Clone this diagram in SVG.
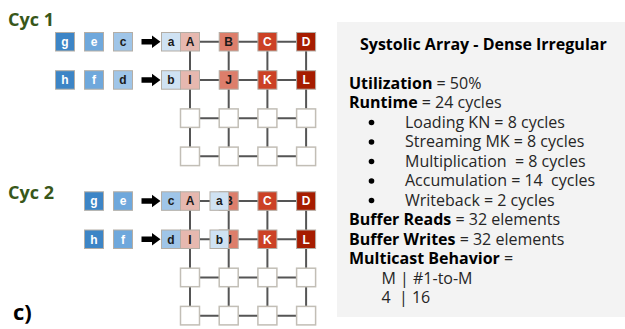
<svg xmlns="http://www.w3.org/2000/svg" width="625" height="329" viewBox="0 0 625 329">
<style>
.cyc{font-family:"Open Sans","Liberation Sans",sans-serif;font-weight:bold;font-size:18px;fill:#38571a}
.b rect{stroke:#b4aea6;stroke-width:1}
.b text{font-family:"Liberation Sans",Arial,sans-serif;font-weight:bold;font-size:12px;text-anchor:middle}
.w{fill:#fff}
.k{fill:#1a1a1a}
.g1{fill:#3d85c6}.g2{fill:#6fa8dc}.g3{fill:#9fc5e8}.g4{fill:#cfe2f3}
.r1{fill:#e6b8af}.r2{fill:#dd7e6b}.r3{fill:#cc4125}.r4{fill:#a61c00}
.e rect{fill:#fff;stroke:#c2beb6;stroke-width:1.5}
.grid line{stroke:#555;stroke-width:2}
.arr{fill:#000}
.p{font-family:"Open Sans","Liberation Sans",sans-serif;font-size:16px;fill:#262626;white-space:pre}
.p .bd{font-weight:bold;fill:#000}
.bul{fill:#000}
</style>
<text class="cyc" x="8" y="26">Cyc 1</text>
<text class="cyc" x="8" y="198.5">Cyc 2</text>
<text x="13" y="320" style="font-family:'Open Sans','Liberation Sans',sans-serif;font-weight:bold;font-size:22px;fill:#000">c)</text>

<g id="connectors">
  <g class="grid">
    <line x1="190" y1="41.75" x2="306.1" y2="41.75"/>
    <line x1="190" y1="79.95" x2="306.1" y2="79.95"/>
    <line x1="190" y1="118.15" x2="306.1" y2="118.15"/>
    <line x1="190" y1="156.35" x2="306.1" y2="156.35"/>
    <line x1="190" y1="41.75" x2="190" y2="156.35"/>
    <line x1="228.7" y1="41.75" x2="228.7" y2="156.35"/>
    <line x1="267.4" y1="41.75" x2="267.4" y2="156.35"/>
    <line x1="306.1" y1="41.75" x2="306.1" y2="156.35"/>
    <line x1="190" y1="201.05" x2="306.1" y2="201.05"/>
    <line x1="190" y1="239.25" x2="306.1" y2="239.25"/>
    <line x1="190" y1="277.45" x2="306.1" y2="277.45"/>
    <line x1="190" y1="315.65" x2="306.1" y2="315.65"/>
    <line x1="190" y1="201.05" x2="190" y2="315.65"/>
    <line x1="228.7" y1="201.05" x2="228.7" y2="315.65"/>
    <line x1="267.4" y1="201.05" x2="267.4" y2="315.65"/>
    <line x1="306.1" y1="201.05" x2="306.1" y2="315.65"/>
  </g>
  <path class="arr" d="M141.5,39 H152 V35.5 L160.5,41.75 L152,48 V44.5 H141.5 Z"/>
  <path class="arr" d="M141.5,77.2 H152 V73.7 L160.5,79.95 L152,86.2 V82.7 H141.5 Z"/>
  <path class="arr" d="M141.5,198.3 H152 V194.8 L160.5,201.05 L152,207.3 V203.8 H141.5 Z"/>
  <path class="arr" d="M141.5,236.5 H152 V233 L160.5,239.25 L152,245.5 V242 H141.5 Z"/>
</g>

<!-- Cycle 1 -->
<g id="c1-g" class="b"><rect class="g1" x="55.5" y="32.5" width="19" height="18.5"/><text class="w" x="65" y="46">g</text></g>
<g id="c1-e" class="b"><rect class="g2" x="84.5" y="32.5" width="19" height="18.5"/><text class="w" x="94" y="46">e</text></g>
<g id="c1-c" class="b"><rect class="g3" x="113.5" y="32.5" width="19" height="18.5"/><text class="k" x="123" y="46">c</text></g>
<g id="c1-a" class="b"><rect class="g4" x="161.5" y="32.5" width="19" height="18.5"/><text class="k" x="171" y="46">a</text></g>
<g id="c1-h" class="b"><rect class="g1" x="55.5" y="70.7" width="19" height="18.5"/><text class="w" x="65" y="84.2">h</text></g>
<g id="c1-f" class="b"><rect class="g2" x="84.5" y="70.7" width="19" height="18.5"/><text class="w" x="94" y="84.2">f</text></g>
<g id="c1-d" class="b"><rect class="g3" x="113.5" y="70.7" width="19" height="18.5"/><text class="k" x="123" y="84.2">d</text></g>
<g id="c1-b" class="b"><rect class="g4" x="161.5" y="70.7" width="19" height="18.5"/><text class="k" x="171" y="84.2">b</text></g>

<g id="c1-A" class="b"><rect class="r1" x="180.5" y="32.5" width="19" height="18.5"/><text class="k" x="190" y="46">A</text></g>
<g id="c1-B" class="b"><rect class="r2" x="219.2" y="32.5" width="19" height="18.5"/><text class="k" x="228.7" y="46">B</text></g>
<g id="c1-C" class="b"><rect class="r3" x="257.9" y="32.5" width="19" height="18.5"/><text class="w" x="267.4" y="46">C</text></g>
<g id="c1-D" class="b"><rect class="r4" x="296.6" y="32.5" width="19" height="18.5"/><text class="w" x="306.1" y="46">D</text></g>
<g id="c1-I" class="b"><rect class="r1" x="180.5" y="70.7" width="19" height="18.5"/><text class="k" x="190" y="84.2">I</text></g>
<g id="c1-J" class="b"><rect class="r2" x="219.2" y="70.7" width="19" height="18.5"/><text class="k" x="228.7" y="84.2">J</text></g>
<g id="c1-K" class="b"><rect class="r3" x="257.9" y="70.7" width="19" height="18.5"/><text class="w" x="267.4" y="84.2">K</text></g>
<g id="c1-L" class="b"><rect class="r4" x="296.6" y="70.7" width="19" height="18.5"/><text class="w" x="306.1" y="84.2">L</text></g>
<g id="c1-empty" class="e">
  <rect x="180.5" y="108.9" width="19" height="18.5"/><rect x="219.2" y="108.9" width="19" height="18.5"/><rect x="257.9" y="108.9" width="19" height="18.5"/><rect x="296.6" y="108.9" width="19" height="18.5"/>
  <rect x="180.5" y="147.1" width="19" height="18.5"/><rect x="219.2" y="147.1" width="19" height="18.5"/><rect x="257.9" y="147.1" width="19" height="18.5"/><rect x="296.6" y="147.1" width="19" height="18.5"/>
</g>

<!-- Cycle 2 -->
<g id="c2-g" class="b"><rect class="g1" x="84.5" y="191.8" width="19" height="18.5"/><text class="w" x="94" y="205.3">g</text></g>
<g id="c2-e" class="b"><rect class="g2" x="113.5" y="191.8" width="19" height="18.5"/><text class="w" x="123" y="205.3">e</text></g>
<g id="c2-h" class="b"><rect class="g1" x="84.5" y="230" width="19" height="18.5"/><text class="w" x="94" y="243.5">h</text></g>
<g id="c2-f" class="b"><rect class="g2" x="113.5" y="230" width="19" height="18.5"/><text class="w" x="123" y="243.5">f</text></g>
<g id="c2-c" class="b"><rect class="g3" x="161.5" y="191.8" width="19" height="18.5"/><text class="k" x="171" y="205.3">c</text></g>
<g id="c2-d" class="b"><rect class="g3" x="161.5" y="230" width="19" height="18.5"/><text class="k" x="171" y="243.5">d</text></g>

<g id="c2-A" class="b"><rect class="r1" x="180.5" y="191.8" width="19" height="18.5"/><text class="k" x="190" y="205.3">A</text></g>
<g id="c2-B" class="b"><rect class="r2" x="219.2" y="191.8" width="19" height="18.5"/><text class="k" x="228.7" y="205.3">B</text></g>
<g id="c2-C" class="b"><rect class="r3" x="257.9" y="191.8" width="19" height="18.5"/><text class="w" x="267.4" y="205.3">C</text></g>
<g id="c2-D" class="b"><rect class="r4" x="296.6" y="191.8" width="19" height="18.5"/><text class="w" x="306.1" y="205.3">D</text></g>
<g id="c2-I" class="b"><rect class="r1" x="180.5" y="230" width="19" height="18.5"/><text class="k" x="190" y="243.5">I</text></g>
<g id="c2-J" class="b"><rect class="r2" x="219.2" y="230" width="19" height="18.5"/><text class="k" x="228.7" y="243.5">J</text></g>
<g id="c2-K" class="b"><rect class="r3" x="257.9" y="230" width="19" height="18.5"/><text class="w" x="267.4" y="243.5">K</text></g>
<g id="c2-L" class="b"><rect class="r4" x="296.6" y="230" width="19" height="18.5"/><text class="w" x="306.1" y="243.5">L</text></g>
<g id="c2-a" class="b"><rect class="g4" x="210" y="191.8" width="18.5" height="18.5"/><text class="k" x="219.3" y="205.3">a</text></g>
<g id="c2-b" class="b"><rect class="g4" x="210" y="230" width="18.5" height="18.5"/><text class="k" x="219.3" y="243.5">b</text></g>
<g id="c2-empty" class="e">
  <rect x="180.5" y="268.2" width="19" height="18.5"/><rect x="219.2" y="268.2" width="19" height="18.5"/><rect x="257.9" y="268.2" width="19" height="18.5"/><rect x="296.6" y="268.2" width="19" height="18.5"/>
  <rect x="180.5" y="306.4" width="19" height="18.5"/><rect x="219.2" y="306.4" width="19" height="18.5"/><rect x="257.9" y="306.4" width="19" height="18.5"/><rect x="296.6" y="306.4" width="19" height="18.5"/>
</g>

<!-- Info panel -->
<g id="panel">
  <rect x="337" y="22" width="288" height="295" fill="#f3f3f3"/>
  <text class="p" x="360" y="50" style="font-weight:bold;fill:#000">Systolic Array - Dense Irregular</text>
  <text class="p" x="349" y="88.5"><tspan class="bd">Utilization</tspan> = 50%</text>
  <text class="p" x="349" y="108"><tspan class="bd">Runtime</tspan> = 24 cycles</text>
  <circle class="bul" cx="371.5" cy="122.5" r="2.8"/>
  <text class="p" x="405" y="127.5">Loading KN = 8 cycles</text>
  <circle class="bul" cx="371.5" cy="142" r="2.8"/>
  <text class="p" x="405" y="147">Streaming MK = 8 cycles</text>
  <circle class="bul" cx="371.5" cy="161.5" r="2.8"/>
  <text class="p" x="405" y="166.5">Multiplication  = 8 cycles</text>
  <circle class="bul" cx="371.5" cy="181" r="2.8"/>
  <text class="p" x="405" y="186">Accumulation = 14  cycles</text>
  <circle class="bul" cx="371.5" cy="200.5" r="2.8"/>
  <text class="p" x="405" y="205.5">Writeback = 2 cycles</text>
  <text class="p" x="349" y="225"><tspan class="bd">Buffer Reads</tspan> = 32 elements</text>
  <text class="p" x="349" y="244.5"><tspan class="bd">Buffer Writes</tspan> = 32 elements</text>
  <text class="p" x="349" y="264"><tspan class="bd">Multicast Behavior</tspan> =</text>
  <text class="p" x="381.5" y="283.5">M | #1-to-M</text>
  <text class="p" x="381.5" y="303">4  | 16</text>
</g>
</svg>
